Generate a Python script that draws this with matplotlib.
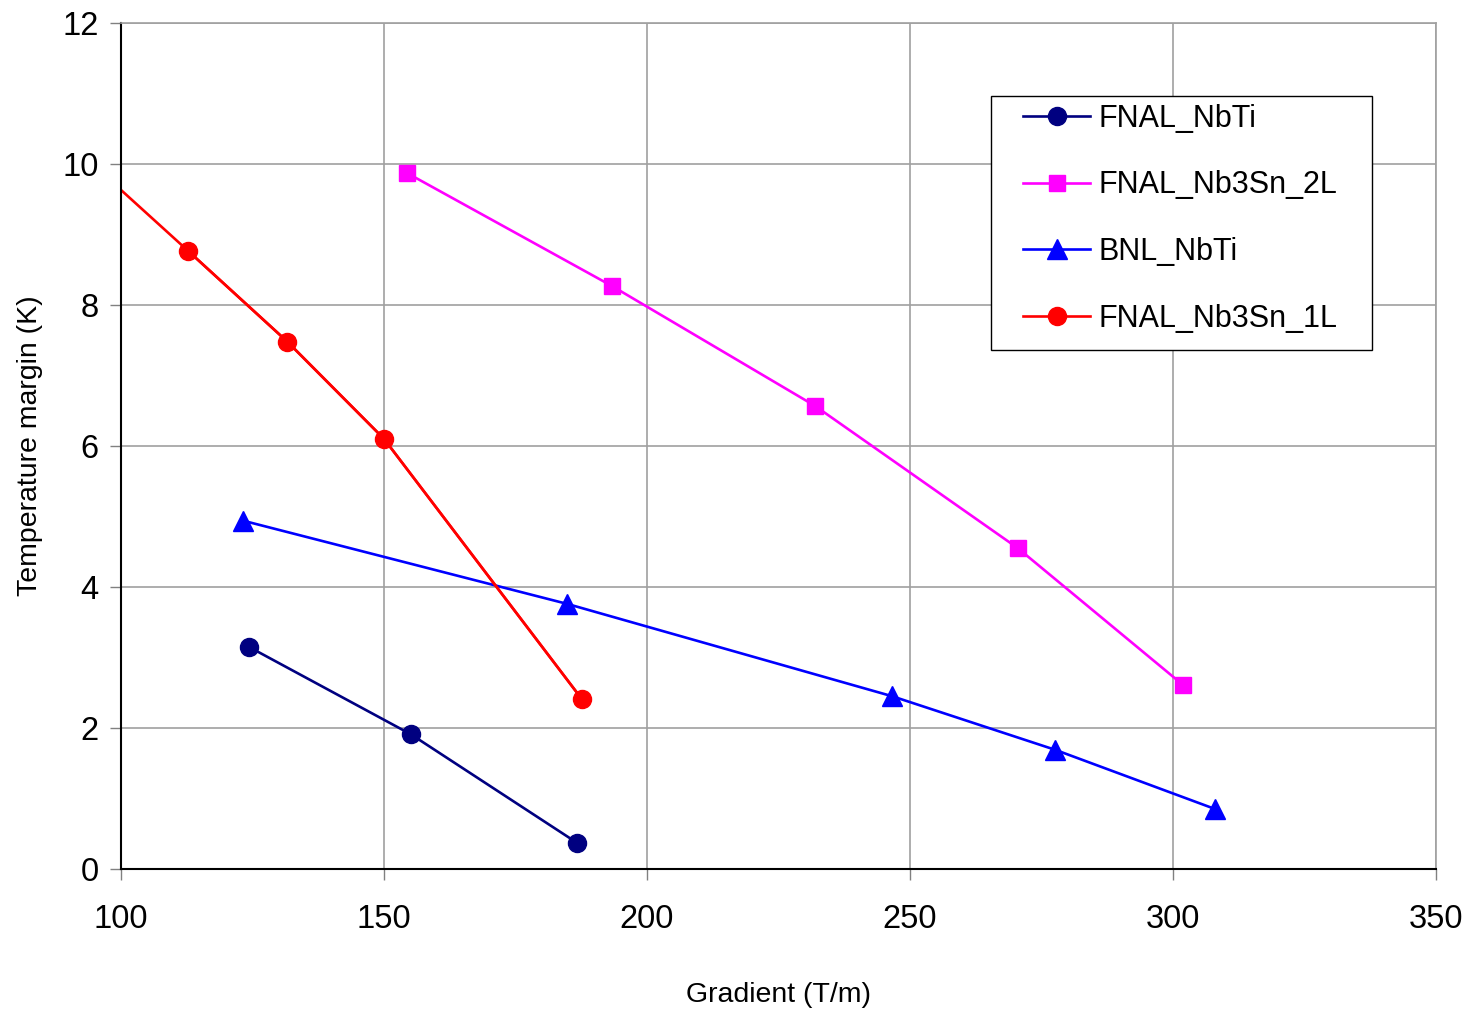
import matplotlib
matplotlib.use("Agg")
import matplotlib.pyplot as plt
from matplotlib.patches import Rectangle

plt.rcParams['font.family'] = ['Liberation Sans', 'DejaVu Sans']

# data
fnal_nbti_x = [124.3, 155.1, 186.7]
fnal_nbti_y = [3.15, 1.91, 0.37]

fnal_2l_x = [154.4, 193.3, 231.9, 270.5, 301.9]
fnal_2l_y = [9.87, 8.27, 6.57, 4.55, 2.61]

bnl_nbti_x = [123.2, 184.8, 246.6, 277.6, 308.0]
bnl_nbti_y = [4.94, 3.76, 2.45, 1.69, 0.85]

fnal_1l_x = [112.7, 131.6, 150.0, 187.6]
fnal_1l_y = [8.77, 7.48, 6.10, 2.41]
# the red curve runs on past the first marker to the axis
fnal_1l_line_x = [100.0, 112.7, 131.6, 150.0, 187.6]
fnal_1l_line_y = [9.63, 8.77, 7.48, 6.10, 2.41]

fig = plt.figure(figsize=(14.71, 10.11), dpi=100)
ax = fig.add_axes([0.0823, 0.1405, 0.8939, 0.8368])

ax.plot(fnal_nbti_x, fnal_nbti_y, color='#000080', lw=1.9, marker='o', ms=13,
        label='FNAL_NbTi')
ax.plot(fnal_2l_x, fnal_2l_y, color='#ff00ff', lw=1.9, marker='s', ms=12,
        label='FNAL_Nb3Sn_2L')
ax.plot(bnl_nbti_x, bnl_nbti_y, color='#0000ff', lw=1.9, marker='^', ms=14,
        label='BNL_NbTi')
ax.plot(fnal_1l_line_x, fnal_1l_line_y, color='#ff0000', lw=1.9)
ax.plot(fnal_1l_x, fnal_1l_y, color='#ff0000', lw=1.9, marker='o', ms=13,
        label='FNAL_Nb3Sn_1L')

ax.set_xlim(100, 350)
ax.set_ylim(0, 12)
ax.set_xticks([100, 150, 200, 250, 300, 350])
ax.set_yticks([0, 2, 4, 6, 8, 10, 12])
ax.tick_params(labelsize=23.5, length=8, width=1, direction='out', color='#808080')
ax.tick_params(axis='x', pad=17)
ax.tick_params(axis='y', pad=8)
ax.grid(True, color='#a0a0a0', lw=1.2)
ax.set_axisbelow(True)

for s in ['top', 'right']:
    ax.spines[s].set_color('#a0a0a0')
    ax.spines[s].set_linewidth(1.2)
for s in ['left', 'bottom']:
    ax.spines[s].set_color('black')
    ax.spines[s].set_linewidth(1.5)

ax.set_xlabel('Gradient (T/m)', fontsize=20.5, labelpad=34)
ax.set_ylabel('Temperature margin (K)', fontsize=20.5, labelpad=14)

# legend box drawn separately so its padding matches the original
ax.add_patch(Rectangle((0.6616, 0.6135), 0.2894, 0.3002, transform=ax.transAxes,
                       facecolor='white', edgecolor='black', lw=1.0, zorder=4))
handles, labels = ax.get_legend_handles_labels()
leg = ax.legend(handles, labels, loc='upper left', bbox_to_anchor=(0.686, 0.9045),
                fontsize=22, frameon=False, handlelength=2.2,
                labelspacing=1.2, borderpad=0, handletextpad=0.26,
                borderaxespad=0)
leg.set_zorder(5)

fig.savefig('out.png', dpi=100)
